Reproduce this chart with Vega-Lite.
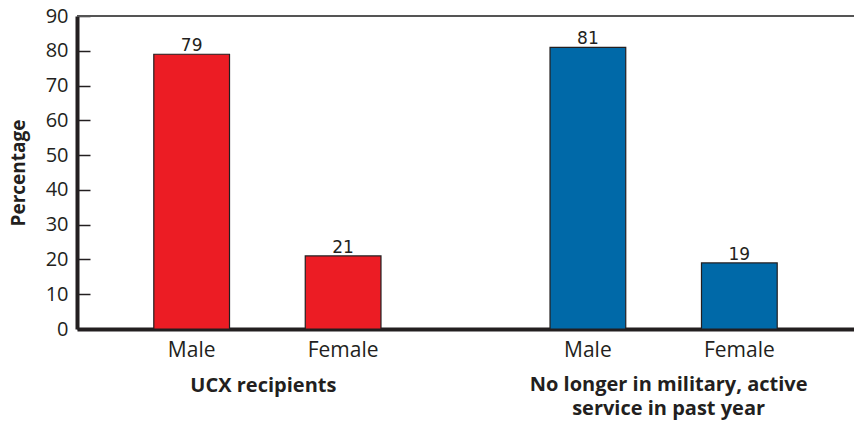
{
  "$schema": "https://vega.github.io/schema/vega-lite/v6.json",
  "autosize": "none",
  "width": 777,
  "height": 313,
  "padding": {"left": 77, "top": 16, "right": 0, "bottom": 94},
  "background": "white",
  "config": {
    "view": {"stroke": null},
    "font": "Open Sans",
    "axisY": {
      "tickCount": 10,
      "grid": false,
      "titleFont": "Open Sans",
      "titleFontSize": 19,
      "titleFontWeight": "bold",
      "titleColor": "#231f20",
      "titlePadding": 17,
      "labelFont": "Open Sans",
      "labelFontSize": 20,
      "labelColor": "#231f20",
      "labelPadding": 22,
      "tickSize": -13,
      "tickWidth": 1.5,
      "tickColor": "#231f20",
      "domainColor": "#231f20",
      "domainWidth": 4,
      "zindex": 1
    },
    "axisX": {
      "labels": false,
      "ticks": false,
      "domainColor": "#231f20",
      "domainWidth": 4,
      "zindex": 1
    }
  },
  "datasets": {
    "shares": [
      {"group": "UCX recipients", "sex": "Male", "percent": 79},
      {"group": "UCX recipients", "sex": "Female", "percent": 21},
      {"group": "No longer in military, active service in past year", "sex": "Male", "percent": 81},
      {"group": "No longer in military, active service in past year", "sex": "Female", "percent": 19}
    ],
    "groups": [
      {"group": "UCX recipients", "label": "UCX recipients"},
      {"group": "No longer in military, active service in past year", "label": "No longer in military, active\nservice in past year"}
    ]
  },
  "data": {"name": "shares"},
  "layer": [
    {
      "mark": {"type": "bar", "stroke": "#231f20", "strokeWidth": 1.2},
      "encoding": {
        "x": {
          "field": "group",
          "type": "nominal",
          "sort": null,
          "title": null,
          "scale": {"paddingInner": 0.039, "paddingOuter": 0}
        },
        "xOffset": {
          "field": "sex",
          "type": "nominal",
          "sort": ["Male", "Female"],
          "scale": {"paddingInner": 0.5, "paddingOuter": 0.507}
        },
        "y": {
          "field": "percent",
          "type": "quantitative",
          "title": "Percentage",
          "scale": {"domain": [0, 90], "nice": false}
        },
        "color": {
          "field": "group",
          "type": "nominal",
          "scale": {
            "domain": ["UCX recipients", "No longer in military, active service in past year"],
            "range": ["#ec1c24", "#0069a8"]
          },
          "legend": null
        }
      }
    },
    {
      "mark": {"type": "rule", "color": "#555555", "strokeWidth": 1.5},
      "encoding": {"y": {"datum": 90, "type": "quantitative"}}
    },
    {
      "mark": {"type": "text", "font": "DejaVu Sans", "fontSize": 17, "color": "#231f20", "baseline": "bottom", "dy": 1},
      "encoding": {
        "x": {"field": "group", "type": "nominal", "sort": null},
        "xOffset": {"field": "sex", "type": "nominal", "sort": ["Male", "Female"]},
        "y": {"field": "percent", "type": "quantitative"},
        "text": {"field": "percent", "type": "quantitative"}
      }
    },
    {
      "mark": {"type": "text", "font": "Open Sans", "fontSize": 21, "color": "#231f20", "baseline": "middle", "dy": 22},
      "encoding": {
        "x": {"field": "group", "type": "nominal", "sort": null},
        "xOffset": {"field": "sex", "type": "nominal", "sort": ["Male", "Female"]},
        "y": {"datum": 0, "type": "quantitative"},
        "text": {"field": "sex", "type": "nominal"}
      }
    },
    {
      "data": {"name": "groups"},
      "transform": [{"filter": "datum.group === 'UCX recipients'"}],
      "mark": {"type": "text", "font": "Open Sans", "fontSize": 20, "fontWeight": "bold", "color": "#231f20", "baseline": "top", "align": "center", "dx": -4, "dy": 47},
      "encoding": {
        "x": {"field": "group", "type": "nominal", "sort": null},
        "y": {"datum": 0, "type": "quantitative"},
        "text": {"field": "label", "type": "nominal"}
      }
    },
    {
      "data": {"name": "groups"},
      "transform": [{"filter": "datum.group !== 'UCX recipients'"}],
      "mark": {"type": "text", "font": "Open Sans", "fontSize": 20, "fontWeight": "bold", "color": "#231f20", "baseline": "top", "align": "center", "lineBreak": "\n", "lineHeight": 24, "dx": 5, "dy": 46},
      "encoding": {
        "x": {"field": "group", "type": "nominal", "sort": null},
        "y": {"datum": 0, "type": "quantitative"},
        "text": {"field": "label", "type": "nominal"}
      }
    }
  ]
}
